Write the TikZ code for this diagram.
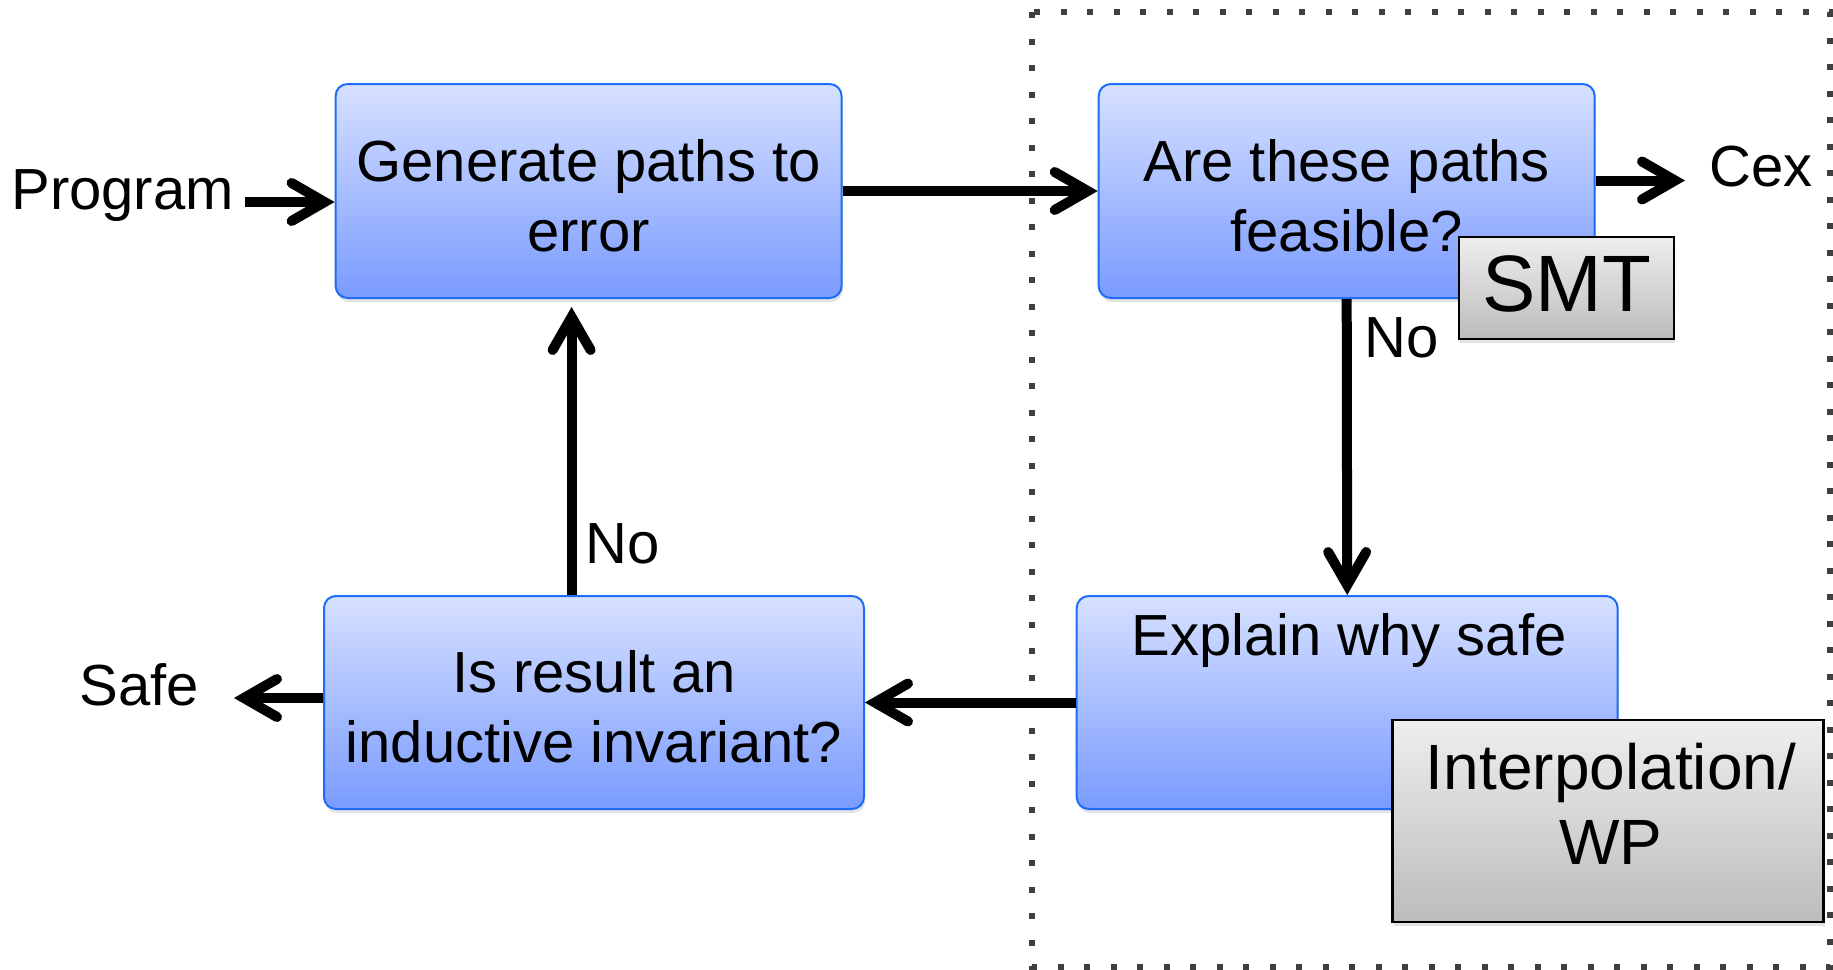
\documentclass[tikz,border=0pt]{standalone}
\usepackage{fontspec}
\setmainfont{Liberation Sans}
\usetikzlibrary{arrows.meta,shadows}
\definecolor{bluetop}{RGB}{214,224,255}
\definecolor{bluebot}{RGB}{122,155,255}
\definecolor{blueline}{RGB}{30,110,245}
\definecolor{graytop}{RGB}{238,238,238}
\definecolor{graybot}{RGB}{188,188,188}
\definecolor{dotcol}{RGB}{64,64,64}
\newcommand\mytopstrut{\rule{0pt}{25.5pt}}
\pgfdeclarearrow{
  name = Chev,
  setup code = {
    \pgfarrowssettipend{0pt}
    \pgfarrowssetlineend{-6pt}
    \pgfarrowssetbackend{-24pt}
    \pgfarrowsupperhullpoint{-24pt}{12pt}
    \pgfarrowsupperhullpoint{0pt}{0pt}
  },
  drawing code = {
    \pgfsetdash{}{0pt}
    \pgfsetlinewidth{5pt}
    \pgfsetroundcap
    \pgfsetmiterjoin
    \pgfpathmoveto{\pgfpoint{-21.5pt}{9.5pt}}
    \pgfpathlineto{\pgfpoint{-5pt}{0pt}}
    \pgfpathlineto{\pgfpoint{-21.5pt}{-9.5pt}}
    \pgfusepathqstroke
  }
}
\begin{document}
\begin{tikzpicture}[x=0.5pt,y=-0.5pt,
  bluebox/.style={draw=blueline, line width=1pt, rounded corners=6pt,
    top color=bluetop, bottom color=bluebot, align=center, inner sep=0pt,
    font=\fontsize{29}{35}\selectfont,
    drop shadow={shadow xshift=0.6pt, shadow yshift=-2pt, opacity=0.22}},
  graybox/.style={draw=black, line width=1.2pt,
    top color=graytop, bottom color=graybot, align=center, inner sep=0pt,
    drop shadow={shadow xshift=0.6pt, shadow yshift=-2pt, opacity=0.22}},
  lbl/.style={font=\fontsize{29}{35}\selectfont, inner sep=0pt},
  arr/.style={line width=5pt, -{Chev}}
]
\useasboundingbox (0,0) rectangle (1833,970);
% dotted frame
\draw[dotcol, line width=3pt, dash pattern=on 3pt off 10.25pt] (1032,12) rectangle (1830,967);

% blue boxes
\node[bluebox, minimum width=253pt, minimum height=107pt] (gen) at (588.6,191) {\mytopstrut Generate paths to\\error};
\node[bluebox, minimum width=248pt, minimum height=107pt] (are) at (1346.7,191) {\mytopstrut Are these paths\\feasible?};
\node[bluebox, minimum width=270.5pt, minimum height=106.5pt] (expl) at (1347.2,702.5) {};
\node[lbl, anchor=base] (expltxt) at (1349,655) {Explain why safe};
\node[bluebox, minimum width=270pt, minimum height=106.5pt] (isres) at (594,702.5) {\mytopstrut Is result an\\inductive invariant?};

% gray boxes
\node[graybox, minimum width=107.5pt, minimum height=51pt, text height=28.6pt, text depth=5pt, font=\fontsize{40}{48}\selectfont] (smt) at (1566.5,288) {SMT};
\node[graybox, minimum width=215.5pt, minimum height=101pt] (interp) at (1608,821) {};
\node[inner sep=0pt, align=center, font=\fontsize{32}{37.5}\selectfont] (interptxt) at (1611,804) {Interpolation/\\WP};

% outside labels
\node[lbl, anchor=base west] (prog) at (11,209) {Program};
\node[lbl, anchor=base west] (cex) at (1709,186) {Cex};
\node[lbl, anchor=base west] (safe) at (79,705) {Safe};
\node[lbl, anchor=base west] (no1) at (1364,357) {No};
\node[lbl, anchor=base west] (no2) at (585,563) {No};

% connectors
\coordinate (pa) at (245,202);
\coordinate (cexarr) at (1685,180.5);
\coordinate (safearr) at (234,698);
\coordinate (up) at (571.6,0);
\draw[arr] (pa) -- (pa -| gen.west);
\draw[arr] (gen.east) -- (are.west);
\draw[arr] (are.east |- cexarr) -- (cexarr);
\draw[arr] (are.south) -- (expl.north);
\draw[arr] (expl.west) -- (isres.east);
\draw[arr] (isres.west |- safearr) -- (safearr);
\draw[arr, shorten >=4pt] (isres.north -| up) -- (gen.south -| up);
\end{tikzpicture}
\end{document}
